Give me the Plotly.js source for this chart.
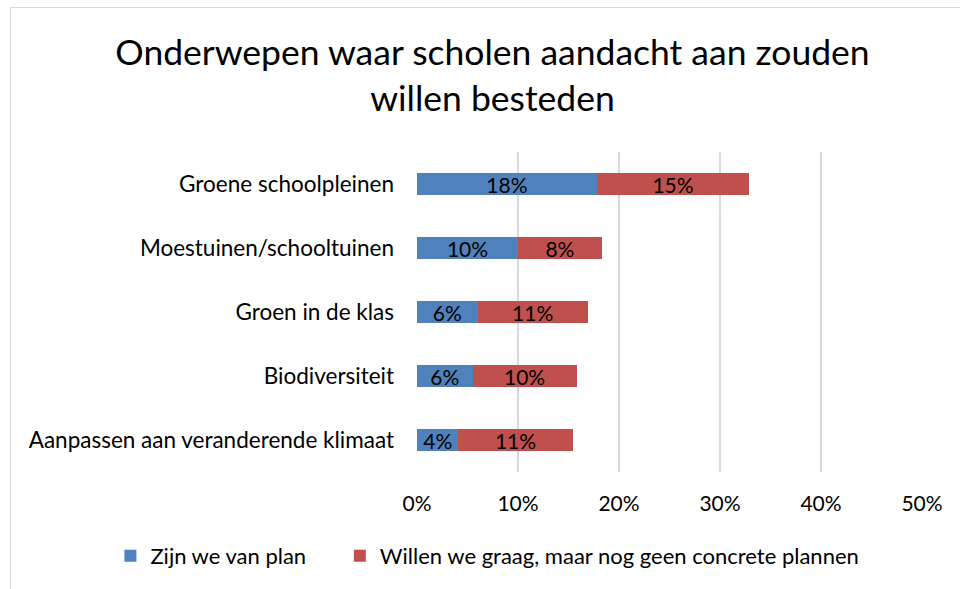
<!DOCTYPE html>
<html>
<head>
<meta charset="utf-8">
<script src="https://cdn.plot.ly/plotly-3.0.1.min.js"></script>
<style>
  body { margin: 0; background: #fff; }
  #wrap { position: relative; width: 960px; height: 589px; overflow: hidden; }
  #chart { width: 960px; height: 589px; }
  #frame { position: absolute; left: 10px; top: 7px; width: 1000px; height: 1000px;
           border: 1px solid #d9d9d9; pointer-events: none; }
</style>
</head>
<body>
<div id="wrap">
  <div id="chart"></div>
  <div id="frame"></div>
</div>
<script>
const categories = [
    "Groene schoolpleinen",
    "Moestuinen/schooltuinen",
    "Groen in de klas",
    "Biodiversiteit",
    "Aanpassen aan veranderende klimaat"
];
const planned = [0.178, 0.100, 0.060, 0.055, 0.041];
const wanted = [0.151, 0.083, 0.109, 0.103, 0.113];
const seriesNames = ["Zijn we van plan", "Willen we graag, maar nog geen concrete plannen"];
const tickValues = [0, 0.1, 0.2, 0.3, 0.4, 0.5];
const tickLabels = ["0%", "10%", "20%", "30%", "40%", "50%"];

const font = "Lato, 'Open Sans', sans-serif";

function barTrace(values, name, color, legendId) {
    return {
        type: "bar",
        orientation: "h",
        y: categories,
        x: values,
        name: name,
        legend: legendId,
        marker: {color: color, line: {width: 0}},
        texttemplate: "%{x:.0%}",
        textposition: "inside",
        insidetextanchor: "middle",
        constraintext: "none",
        textfont: {family: font, size: 21, color: "#000000"},
        hoverinfo: "none"
    };
}

const data = [
    barTrace(planned, seriesNames[0], "#4f81bd", "legend"),
    barTrace(wanted, seriesNames[1], "#c0504d", "legend2")
];

// one legend per series so each entry can sit where the reference puts it
function legendAt(x) {
    return {
        orientation: "h",
        xref: "container", yref: "container",
        x: x, xanchor: "left",
        y: 0.056, yanchor: "middle",
        font: {family: font, size: 22},
        itemwidth: 30,
        bgcolor: "rgba(0,0,0,0)"
    };
}

const layout = {
    width: 960,
    height: 589,
    barmode: "stack",
    bargap: 0.65,
    font: {family: font, size: 21, color: "#000000"},
    title: {
        text: "Onderwepen waar scholen aandacht aan zouden<br>willen besteden",
        font: {family: font, size: 35.5, color: "#000000"},
        x: 0.513, xanchor: "center",
        yref: "container",
        y: 0.89, yanchor: "middle"
    },
    xaxis: {
        range: [0, 0.5],
        tickvals: tickValues,
        ticktext: tickLabels,
        showgrid: true,
        gridcolor: "#d9d9d9",
        gridwidth: 1.5,
        zeroline: false,
        showline: false,
        ticks: "",
        ticklabelstandoff: 17,
        automargin: false,
        tickfont: {family: font, size: 21}
    },
    yaxis: {
        autorange: "reversed",
        showgrid: false,
        zeroline: false,
        showline: false,
        ticks: "",
        ticklabelstandoff: 22,
        automargin: false,
        tickfont: {family: font, size: 22.5}
    },
    showlegend: true,
    legend: legendAt(0.115),
    legend2: legendAt(0.354),
    margin: {l: 417, r: 38, t: 152, b: 117, pad: 0},
    paper_bgcolor: "#ffffff",
    plot_bgcolor: "#ffffff"
};

Plotly.newPlot("chart", data, layout, {displayModeBar: false, responsive: false});
</script>
</body>
</html>
